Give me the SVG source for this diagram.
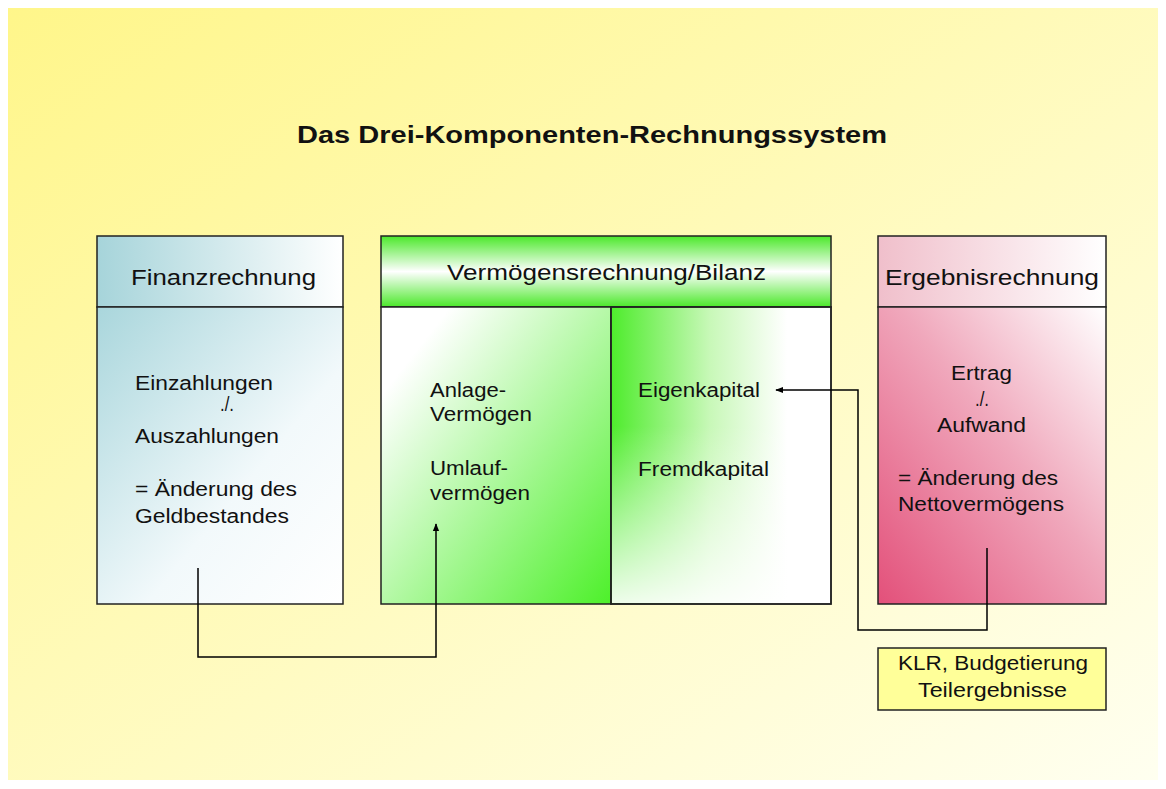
<svg xmlns="http://www.w3.org/2000/svg" width="1166" height="789" viewBox="0 0 1166 789">
<defs>
<linearGradient id="bg" x1="0" y1="0" x2="1" y2="1">
<stop offset="0" stop-color="#fff68a"/>
<stop offset="0.45" stop-color="#fffab8"/>
<stop offset="1" stop-color="#fffff0"/>
</linearGradient>
<linearGradient id="finHead" x1="0" y1="0" x2="1" y2="0">
<stop offset="0" stop-color="#a6d4da"/>
<stop offset="1" stop-color="#ffffff"/>
</linearGradient>
<linearGradient id="finBody" x1="0" y1="0" x2="1" y2="1">
<stop offset="0" stop-color="#a9d6dc"/>
<stop offset="0.6" stop-color="#f2f9fb"/>
<stop offset="1" stop-color="#ffffff"/>
</linearGradient>
<linearGradient id="bilHead" x1="0" y1="0" x2="0" y2="1">
<stop offset="0" stop-color="#4be82a"/>
<stop offset="0.5" stop-color="#ffffff"/>
<stop offset="1" stop-color="#4be82a"/>
</linearGradient>
<linearGradient id="bilLeft" x1="0" y1="0" x2="1" y2="1">
<stop offset="0.15" stop-color="#ffffff"/>
<stop offset="1" stop-color="#4df02a"/>
</linearGradient>
<linearGradient id="bilRight" x1="0" y1="0" x2="1" y2="0">
<stop offset="0" stop-color="#4eec2c"/>
<stop offset="0.45" stop-color="#c8f8b8"/>
<stop offset="0.8" stop-color="#ffffff"/>
</linearGradient>
<linearGradient id="bilRightFade" x1="0" y1="0" x2="0" y2="1">
<stop offset="0.4" stop-color="#ffffff" stop-opacity="0"/>
<stop offset="1" stop-color="#ffffff" stop-opacity="0.9"/>
</linearGradient>
<linearGradient id="ergHead" x1="0" y1="0" x2="1" y2="0">
<stop offset="0" stop-color="#f0bfcb"/>
<stop offset="1" stop-color="#ffffff"/>
</linearGradient>
<linearGradient id="ergBody" x1="0" y1="1" x2="1" y2="0">
<stop offset="0" stop-color="#e3507a"/>
<stop offset="0.55" stop-color="#f0a8bc"/>
<stop offset="1" stop-color="#ffffff"/>
</linearGradient>
<marker id="arr" viewBox="0 0 10 10" refX="9" refY="5" markerWidth="8" markerHeight="8" orient="auto" markerUnits="userSpaceOnUse">
<path d="M0,1 L10,5 L0,9 z" fill="#000"/>
</marker>
</defs>
<style>
.t{font-family:"Liberation Sans",Arial,sans-serif;fill:#111;}
.h{font-size:22px;}
.b{font-size:20px;}
.box{stroke:#222;stroke-width:1.5;}
.con{fill:none;stroke:#000;stroke-width:1.5;}
</style>
<rect x="0" y="0" width="1166" height="789" fill="#ffffff"/>
<rect x="8" y="8" width="1150" height="772" fill="url(#bg)"/>
<text class="t" x="297" y="143" font-size="24" font-weight="bold" textLength="590" lengthAdjust="spacingAndGlyphs">Das Drei-Komponenten-Rechnungssystem</text>

<g id="finanz">
<rect class="box" x="97" y="236" width="246" height="71" fill="url(#finHead)"/>
<rect class="box" x="97" y="307" width="246" height="297" fill="url(#finBody)"/>
<text class="t h" x="131" y="285" textLength="185" lengthAdjust="spacingAndGlyphs">Finanzrechnung</text>
<text class="t b" x="135" y="390" textLength="138" lengthAdjust="spacingAndGlyphs">Einzahlungen</text>
<text class="t b" x="220" y="411" textLength="14" lengthAdjust="spacingAndGlyphs">./.</text>
<text class="t b" x="135" y="443" textLength="144" lengthAdjust="spacingAndGlyphs">Auszahlungen</text>
<text class="t b" x="135" y="496" textLength="162" lengthAdjust="spacingAndGlyphs">= Änderung des</text>
<text class="t b" x="135" y="523" textLength="154" lengthAdjust="spacingAndGlyphs">Geldbestandes</text>
</g>

<g id="bilanz">
<rect class="box" x="381" y="236" width="450" height="71" fill="url(#bilHead)"/>
<rect class="box" x="381" y="307" width="230" height="297" fill="url(#bilLeft)"/>
<rect class="box" x="611" y="307" width="220" height="297" fill="url(#bilRight)"/>
<rect x="612" y="308" width="218" height="295" fill="url(#bilRightFade)"/>
<rect x="611" y="307" width="220" height="297" fill="none" class="box"/>
<text class="t h" x="447" y="280" textLength="319" lengthAdjust="spacingAndGlyphs">Vermögensrechnung/Bilanz</text>
<text class="t b" x="430" y="397" textLength="76" lengthAdjust="spacingAndGlyphs">Anlage-</text>
<text class="t b" x="430" y="421" textLength="102" lengthAdjust="spacingAndGlyphs">Vermögen</text>
<text class="t b" x="430" y="475" textLength="78" lengthAdjust="spacingAndGlyphs">Umlauf-</text>
<text class="t b" x="430" y="500" textLength="100" lengthAdjust="spacingAndGlyphs">vermögen</text>
<text class="t b" x="638" y="397" textLength="122" lengthAdjust="spacingAndGlyphs">Eigenkapital</text>
<text class="t b" x="638" y="476" textLength="131" lengthAdjust="spacingAndGlyphs">Fremdkapital</text>
</g>

<g id="ergebnis">
<rect class="box" x="878" y="236" width="228" height="71" fill="url(#ergHead)"/>
<rect class="box" x="878" y="307" width="228" height="297" fill="url(#ergBody)"/>
<text class="t h" x="885" y="285" textLength="214" lengthAdjust="spacingAndGlyphs">Ergebnisrechnung</text>
<text class="t b" x="951" y="380" textLength="61" lengthAdjust="spacingAndGlyphs">Ertrag</text>
<text class="t b" x="975" y="406" textLength="14" lengthAdjust="spacingAndGlyphs">./.</text>
<text class="t b" x="937" y="432" textLength="89" lengthAdjust="spacingAndGlyphs">Aufwand</text>
<text class="t b" x="898" y="485" textLength="160" lengthAdjust="spacingAndGlyphs">= Änderung des</text>
<text class="t b" x="898" y="511" textLength="166" lengthAdjust="spacingAndGlyphs">Nettovermögens</text>
</g>

<g id="klr">
<rect class="box" x="878" y="648" width="228" height="62" fill="#ffff99"/>
<text class="t b" x="898" y="670" textLength="190" lengthAdjust="spacingAndGlyphs">KLR, Budgetierung</text>
<text class="t b" x="918" y="697" textLength="149" lengthAdjust="spacingAndGlyphs">Teilergebnisse</text>
</g>

<g id="connectors">
<polyline class="con" points="198,568 198,657 436,657 436,524" marker-end="url(#arr)"/>
<polyline class="con" points="987,548 987,630 858,630 858,390 776,390" marker-end="url(#arr)"/>
</g>
</svg>
